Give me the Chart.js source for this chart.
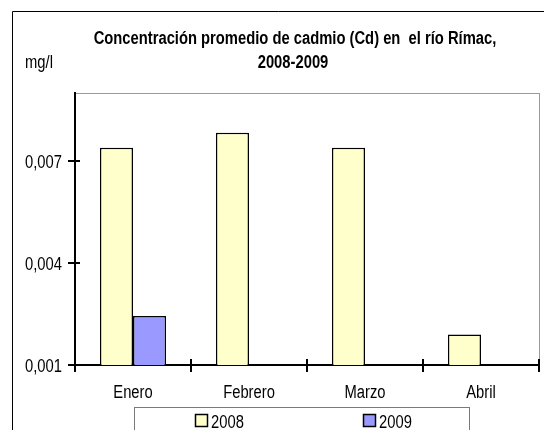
<!DOCTYPE html>
<html>
<head>
<meta charset="utf-8">
<script src="https://cdn.jsdelivr.net/npm/chart.js@4.4.1/dist/chart.umd.min.js"></script>
<style>
  html,body{margin:0;padding:0;background:#fff;}
  #wrap{width:544px;height:430px;}
</style>
</head>
<body>
<div id="wrap"><canvas id="cd-canvas" width="544" height="430"></canvas></div>
<script>
// data (mg/l)
const categories=['Enero','Febrero','Marzo','Abril'];
const seriesLabels=['2008','2009'];
const values2008=[0.00739,0.00783,0.00739,0.0019];
const values2009=[0.00244,null,null,null];
const yTicks=[0.001,0.004,0.007];
const titleLines=['Concentración promedio de cadmio (Cd) en  el río Rímac,','2008-2009'];
const unitLabel='mg/l';

// no Arial Narrow here, so squeeze Liberation Sans sideways
const FONT='"Liberation Sans",Arial,sans-serif';
const NARROW=0.82;
const colors=['#FFFFCC','#9999FF'];

function narrowText(ctx,txt,x,y,align){
  ctx.save();
  ctx.translate(x,y);
  ctx.scale(NARROW,1);
  ctx.textAlign=align;
  ctx.textBaseline='alphabetic';
  ctx.fillText(txt,0,0);
  ctx.restore();
}

const decor={
  id:'decor',
  beforeDraw(chart){
    const ctx=chart.ctx, a=chart.chartArea;
    ctx.save();
    ctx.fillStyle='#fff';
    ctx.fillRect(0,0,chart.width,chart.height);
    // outer chart frame (only top and left show)
    ctx.strokeStyle='#000';ctx.lineWidth=1;
    ctx.beginPath();
    ctx.moveTo(12.5,chart.height);ctx.lineTo(12.5,11.5);ctx.lineTo(chart.width,11.5);
    ctx.stroke();
    // plot area frame
    ctx.strokeStyle='#9a9a9a';
    ctx.strokeRect(a.left+0.5,a.top+0.5,a.right-a.left,a.bottom-a.top);
    // title + unit
    ctx.fillStyle='#000';
    ctx.font='bold 18px '+FONT;
    narrowText(ctx,titleLines[0],295,44,'center');
    narrowText(ctx,titleLines[1],293,68,'center');
    ctx.font='18px '+FONT;
    narrowText(ctx,unitLabel,39,68,'center');
    ctx.restore();
  },
  afterDraw(chart){
    const ctx=chart.ctx, a=chart.chartArea;
    const ys=chart.scales.y, xs=chart.scales.x;
    ctx.save();
    // cross ticks
    ctx.strokeStyle='#000';ctx.lineWidth=2;
    ctx.beginPath();
    yTicks.forEach(v=>{
      const p=Math.round(ys.getPixelForValue(v));
      ctx.moveTo(a.left-7,p);ctx.lineTo(a.left+5,p);
    });
    const n=categories.length, w=(a.right-a.left)/n;
    for(let i=0;i<=n;i++){
      const p=Math.round(a.left+i*w);
      ctx.moveTo(p,a.bottom-6);ctx.lineTo(p,a.bottom+7);
    }
    ctx.stroke();
    // tick labels
    ctx.fillStyle='#000';
    ctx.font='18px '+FONT;
    yTicks.forEach(v=>{
      const p=ys.getPixelForValue(v);
      narrowText(ctx,v.toFixed(3).replace('.',','),62,p+7,'right');
    });
    categories.forEach((c,i)=>{
      narrowText(ctx,c,xs.getPixelForValue(i),398,'center');
    });
    // legend
    ctx.strokeStyle='#7a7a7a';ctx.lineWidth=1;
    ctx.strokeRect(134.5,407.5,335,40);
    const itemX=[195,363];
    chart.data.datasets.forEach((ds,i)=>{
      ctx.fillStyle=ds.backgroundColor;
      ctx.fillRect(itemX[i],414,13,13);
      ctx.strokeStyle='#000';ctx.lineWidth=1.5;
      ctx.strokeRect(itemX[i]+0.5,414.5,12,12);
      ctx.fillStyle='#000';
      narrowText(ctx,ds.label,itemX[i]+16,428,'left');
    });
    ctx.restore();
  }
};

new Chart(document.getElementById('cd-canvas'),{
  type:'bar',
  data:{
    labels:categories,
    datasets:[
      {label:seriesLabels[0],data:values2008,backgroundColor:colors[0],borderColor:'#000',borderWidth:1.5},
      {label:seriesLabels[1],data:values2009,backgroundColor:colors[1],borderColor:'#000',borderWidth:1.5}
    ]
  },
  options:{
    responsive:false,
    animation:false,
    layout:{padding:{left:0,top:93,right:5,bottom:0}},
    categoryPercentage:0.57,
    barPercentage:1.0,
    plugins:{legend:{display:false},title:{display:false},tooltip:{enabled:false}},
    scales:{
      x:{
        grid:{display:false},
        border:{color:'#000',width:2},
        ticks:{display:false},
        afterFit(s){s.height=65;}
      },
      y:{
        min:0.001,max:0.009,
        grid:{display:false},
        border:{color:'#000',width:2},
        ticks:{display:false},
        afterBuildTicks(s){s.ticks=yTicks.map(v=>({value:v}));},
        afterFit(s){s.width=75;}
      }
    }
  },
  plugins:[decor]
});
</script>
</body>
</html>
